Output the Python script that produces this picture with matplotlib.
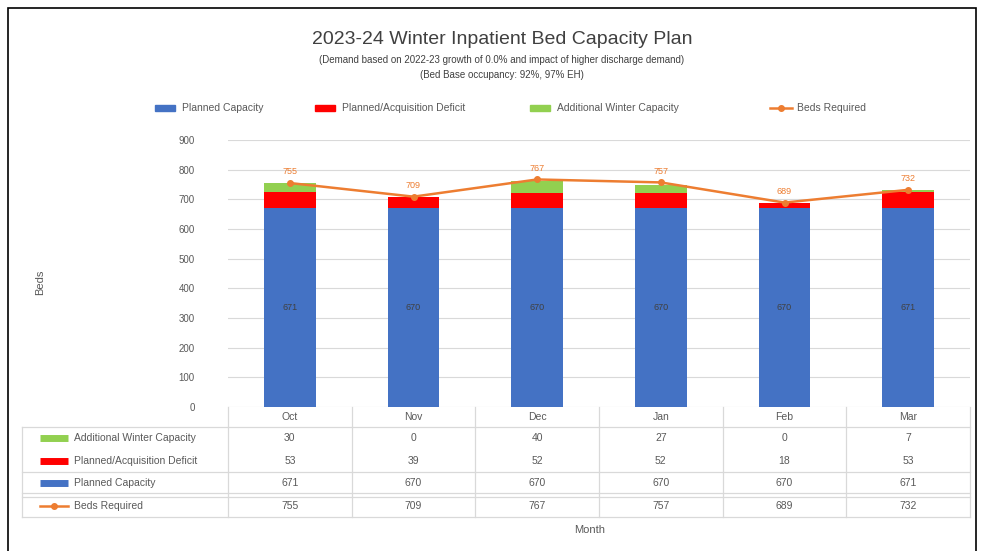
import matplotlib.pyplot as plt
import numpy as np
from matplotlib.patches import Rectangle
from matplotlib.lines import Line2D

plt.rcParams['font.family'] = ['Liberation Sans', 'DejaVu Sans']

months = ["Oct", "Nov", "Dec", "Jan", "Feb", "Mar"]
planned_capacity = [671, 670, 670, 670, 670, 671]
planned_deficit = [53, 39, 52, 52, 18, 53]
winter_capacity = [30, 0, 40, 27, 0, 7]
beds_required = [755, 709, 767, 757, 689, 732]

BLUE = "#4472C4"
RED = "#FF0000"
GREEN = "#92D050"
ORANGE = "#ED7D31"
GREY = "#595959"
GRID = "#D9D9D9"

fig = plt.figure(figsize=(9.84, 5.51), dpi=100)
ax = fig.add_axes([228 / 984, 1 - 407 / 551, 742 / 984, 267 / 551])

x = np.arange(len(months))
w = 0.42
cap = np.array(planned_capacity)
dfc = np.array(planned_deficit)
win = np.array(winter_capacity)

ax.bar(x, cap, w, color=BLUE, zorder=2)
ax.bar(x, dfc, w, bottom=cap, color=RED, zorder=2)
ax.bar(x, win, w, bottom=cap + dfc, color=GREEN, zorder=2)
ax.plot(x, beds_required, color=ORANGE, lw=1.8, marker="o", ms=4, zorder=3)

for i in range(len(months)):
    ax.text(x[i], cap[i] / 2, str(cap[i]), ha="center", va="center",
            fontsize=6.5, color="#404040", zorder=4)
    ax.text(x[i], beds_required[i] + 38, str(beds_required[i]), ha="center",
            va="center", fontsize=6.5, color=ORANGE, zorder=4)

ax.set_xlim(-0.5, 5.5)
ax.set_ylim(0, 900)
ax.set_yticks(range(0, 901, 100))
ax.tick_params(axis="y", length=0, labelsize=7, labelcolor=GREY, pad=24)
ax.set_xticks([])
ax.grid(axis="y", color=GRID, lw=0.8, zorder=0)
for s in ax.spines.values():
    s.set_visible(False)

# data table below the chart
T = ax.transAxes
def y_ax(px):
    return (407 - px) / 267
def x_ax(px):
    return (px - 228) / 742

col_edges = [x_ax(228) + k / 6 for k in range(7)]
for xe in col_edges:
    ax.add_line(Line2D([xe, xe], [0, y_ax(517)], transform=T, color=GRID,
                       lw=0.9, clip_on=False))
ax.add_line(Line2D([x_ax(22), x_ax(22)], [y_ax(427), y_ax(517)], transform=T,
                   color=GRID, lw=0.9, clip_on=False))
for py in [427, 472, 493, 497, 517]:
    ax.add_line(Line2D([x_ax(22), col_edges[-1]], [y_ax(py), y_ax(py)],
                       transform=T, color=GRID, lw=0.9, clip_on=False))

for i, m in enumerate(months):
    ax.text((i + 0.5) / 6, y_ax(417), m, transform=T, ha="center",
            va="center", fontsize=7.5, color=GREY)

rows = [
    ("Additional Winter Capacity", GREEN, "bar", winter_capacity, 438),
    ("Planned/Acquisition Deficit", RED, "bar", planned_deficit, 461),
    ("Planned Capacity", BLUE, "bar", planned_capacity, 483),
    ("Beds Required", ORANGE, "line", beds_required, 506),
]
for label, col, kind, vals, py in rows:
    yy = y_ax(py)
    if kind == "bar":
        ax.add_line(Line2D([x_ax(40), x_ax(68)], [yy, yy], transform=T,
                           color=col, lw=5, solid_capstyle="butt",
                           clip_on=False))
    else:
        ax.add_line(Line2D([x_ax(40), x_ax(68)], [yy, yy], transform=T,
                           color=col, lw=1.8, clip_on=False))
        ax.add_line(Line2D([x_ax(54)], [yy], transform=T, color=col,
                           marker="o", ms=4, clip_on=False))
    ax.text(x_ax(74), yy, label, transform=T, ha="left", va="center",
            fontsize=7.5, color=GREY)
    for i, v in enumerate(vals):
        ax.text((i + 0.5) / 6, yy, str(v), transform=T, ha="center",
                va="center", fontsize=7.5, color=GREY)

fig.text(590 / 984, 1 - 530 / 551, "Month", ha="center", va="center",
         fontsize=8, color=GREY)
fig.text(40 / 984, 1 - 282 / 551, "Beds", ha="center", va="center",
         rotation=90, fontsize=8, color=GREY)

# titles
fig.text(502 / 984, 1 - 40 / 551, "2023-24 Winter Inpatient Bed Capacity Plan",
         ha="center", va="center", fontsize=14, color="#404040")
fig.text(502 / 984, 1 - 60 / 551,
         "(Demand based on 2022-23 growth of 0.0% and impact of higher discharge demand)",
         ha="center", va="center", fontsize=7, color="#404040")
fig.text(502 / 984, 1 - 75 / 551, "(Bed Base occupancy: 92%, 97% EH)",
         ha="center", va="center", fontsize=7, color="#404040")

# legend
leg = [("Planned Capacity", BLUE, "bar", 155),
       ("Planned/Acquisition Deficit", RED, "bar", 315),
       ("Additional Winter Capacity", GREEN, "bar", 530),
       ("Beds Required", ORANGE, "line", 770)]
ly = 1 - 108 / 551
for label, col, kind, px in leg:
    if kind == "bar":
        fig.patches.append(Rectangle((px / 984, ly - 3 / 551), 20 / 984,
                                     6 / 551, transform=fig.transFigure,
                                     color=col))
    else:
        fig.lines.append(Line2D([px / 984, (px + 22) / 984], [ly, ly],
                                transform=fig.transFigure, color=col, lw=1.8))
        fig.lines.append(Line2D([(px + 11) / 984], [ly], marker="o", ms=4,
                                transform=fig.transFigure, color=col))
    fig.text((px + 27) / 984, ly, label, ha="left", va="center", fontsize=7.5,
             color=GREY)

# outer frame
fig.patches.append(Rectangle((8 / 984, -0.02), 968 / 984, 1 - 8 / 551 + 0.02,
                             transform=fig.transFigure, fill=False,
                             edgecolor="black", lw=1.2))

fig.savefig("out.png", dpi=100)
